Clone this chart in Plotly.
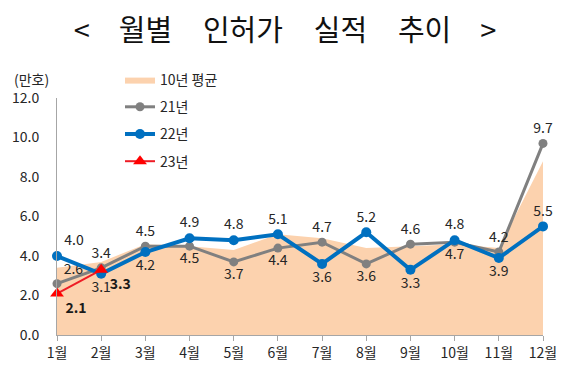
import plotly.graph_objects as go

months = ["1월", "2월", "3월", "4월", "5월", "6월", "7월", "8월", "9월", "10월", "11월", "12월"]
avg10 = [3.4, 3.7, 4.6, 4.5, 4.3, 5.1, 4.9, 4.4, 4.5, 4.6, 4.4, 8.8]
y21 = [2.6, 3.4, 4.5, 4.5, 3.7, 4.4, 4.7, 3.6, 4.6, 4.7, 4.2, 9.7]
y22 = [4.0, 3.1, 4.2, 4.9, 4.8, 5.1, 3.6, 5.2, 3.3, 4.8, 3.9, 5.5]
y23 = [2.1, 3.3]
months23 = months[:2]

pos21 = ["top right", "top center", "top center", "bottom center", "bottom center", "bottom center",
         "top center", "bottom center", "top center", "bottom center", "top center", "top center"]
pos22 = ["top right", "bottom center", "bottom center", "top center", "top center", "top center",
         "bottom center", "top center", "bottom center", "top center", "bottom center", "top center"]
pos23 = ["bottom right", "bottom right"]

FONT = "Noto Sans CJK KR"
TXT = dict(family=FONT, size=14, color="#262626")
FILL = "#fcd2ae"

# page has an 8px body margin; figure drawn at (8, 8)
OFF = 8
W, H = 576 - OFF, 373 - OFF
L, T = 57 - OFF, 98 - OFF
R, B = W - (543 - OFF), H - (335 - OFF)
pw = W - L - R
ph = H - T - B


def px(xp):
    return (xp - OFF - L) / pw


def py(yp):
    return (H - B - (yp - OFF)) / ph


fig = go.Figure()
fig.add_trace(go.Scatter(x=months, y=avg10, name="10년 평균", mode="lines",
                         line=dict(width=0, color=FILL), fill="tozeroy",
                         fillcolor=FILL, legendgroup="a", hoverinfo="skip"))
fig.add_trace(go.Scatter(x=months, y=y21, name="21년", mode="lines+markers+text",
                         line=dict(width=3, color="#808080"),
                         marker=dict(size=9, color="#808080"),
                         text=[f"{v:.1f}" for v in y21], textposition=pos21,
                         textfont=TXT, cliponaxis=False, legendgroup="b"))
fig.add_trace(go.Scatter(x=months, y=y22, name="22년", mode="lines+markers+text",
                         line=dict(width=4, color="#0070c0"),
                         marker=dict(size=10, color="#0070c0"),
                         text=[f"{v:.1f}" for v in y22], textposition=pos22,
                         textfont=TXT, cliponaxis=False, legendgroup="c"))
fig.add_trace(go.Scatter(x=months23, y=y23, name="23년", mode="lines+markers+text",
                         line=dict(width=2, color="#ee1c25"),
                         marker=dict(size=12, color="#ff0000", symbol="triangle-up"),
                         text=[f"<b>{v:.1f}</b>" for v in y23], textposition=pos23,
                         textfont=dict(family=FONT, size=14, color="#1a1a1a"),
                         cliponaxis=False, legendgroup="d"))

fig.update_layout(
    width=W, height=H,
    margin=dict(l=L, r=R, t=T, b=B, autoexpand=False),
    paper_bgcolor="white", plot_bgcolor="white",
    title=dict(text="<\u3000월별\u3000\u200a인허가\u3000\u200a실적\u3000\u200a추이\u3000>",
               x=(285 - OFF) / W, xanchor="center", y=1 - (31 - OFF) / H, yanchor="middle",
               font=dict(family=FONT, size=29, color="#111111")),
    legend=dict(x=px(120), y=py(64), xanchor="left", yanchor="top",
                bgcolor="rgba(0,0,0,0)",
                font=dict(family=FONT, size=14, color="#262626"), tracegroupgap=6,
                itemwidth=30),
    showlegend=True,
    xaxis=dict(type="category", range=[0, 11], showline=True, linecolor="#a6a6a6",
               linewidth=1, ticks="outside", ticklen=5, tickcolor="#a6a6a6",
               showgrid=False, zeroline=False, automargin=False,
               tickfont=dict(family=FONT, size=14, color="#262626")),
    yaxis=dict(range=[0, 12], dtick=2, tickformat=".1f", showline=True,
               linecolor="#a6a6a6", linewidth=1, ticks="", showgrid=False,
               zeroline=False, ticklabelstandoff=14, automargin=False,
               tickfont=dict(family=FONT, size=14, color="#262626")),
    annotations=[dict(text="(만호)", x=px(31), y=py(79), xanchor="center", yanchor="middle",
                      xref="paper", yref="paper", showarrow=False,
                      font=dict(family=FONT, size=14, color="#262626"))],
)

fig.write_html("out.html")
